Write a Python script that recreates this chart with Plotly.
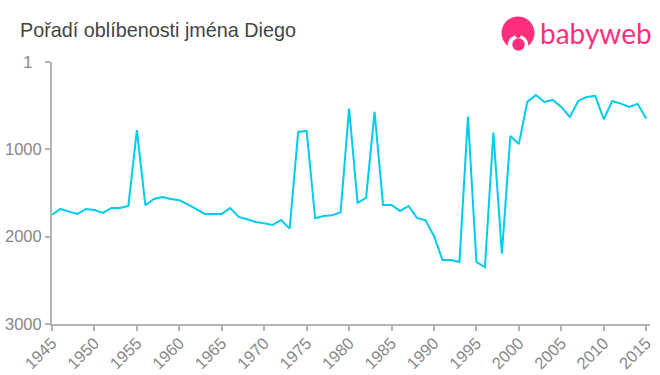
import plotly.graph_objects as go

years = list(range(1945, 2016))
ranks = [1748, 1683, 1714, 1740, 1683, 1695, 1729, 1672, 1672, 1649,
         782, 1641, 1569, 1546, 1569, 1584, 1630, 1687, 1740, 1740,
         1740, 1672, 1775, 1801, 1832, 1847, 1866, 1809, 1908, 802,
         790, 1790, 1763, 1756, 1721, 534, 1614, 1557, 572, 1637,
         1637, 1706, 1649, 1786, 1813, 1992, 2267, 2267, 2290, 626,
         2290, 2351, 809, 2195, 847, 939, 458, 378, 458, 435,
         515, 630, 447, 401, 389, 656, 447, 477, 515, 481, 649]
x_ticks = list(range(1945, 2016, 5))
y_ticks = [1, 1000, 2000, 3000]
y_labels = ["1\u00a0\u00a0", "1000", "2000", "3000"]
title = "Pořadí oblíbenosti jména Diego"
brand = "babyweb"

W, H = 660, 375
L, R, T, B = 52, 10, 62, 51
PINK = "#FF2F7E"
px = lambda v: (v - L) / (W - L - R)
py = lambda v: 1 - (v - T) / (H - T - B)


def disc(cx, cy, r, color):
    return dict(type="circle", xref="paper", yref="paper", layer="above",
                x0=px(cx - r), x1=px(cx + r), y0=py(cy + r), y1=py(cy - r),
                fillcolor=color, line_width=0)


fig = go.Figure(go.Scatter(x=years, y=ranks, mode="lines", cliponaxis=False,
                           line=dict(color="#00CCEE", width=2), hoverinfo="skip"))
fig.update_layout(
    width=W, height=H, autosize=False, showlegend=False,
    margin=dict(l=L, r=R, t=T, b=B, autoexpand=False),
    paper_bgcolor="white", plot_bgcolor="white",
    font=dict(family="Liberation Sans, Arial, sans-serif", color="#888888", size=16.5),
    xaxis=dict(range=[1945, 2015.45], tickvals=x_ticks, ticktext=[str(v) for v in x_ticks],
               tickangle=-45, showgrid=False, zeroline=False, showline=True,
               linecolor="#B3B3B3", linewidth=2, ticks="outside", ticklen=5,
               tickcolor="#B3B3B3", tickwidth=2, automargin=False, ticklabelstandoff=-4),
    yaxis=dict(range=[3000, 1], tickvals=y_ticks, ticktext=y_labels,
               showgrid=False, zeroline=False, showline=True,
               linecolor="#B3B3B3", linewidth=2, ticks="outside", ticklen=5,
               tickcolor="#B3B3B3", tickwidth=2, automargin=False),
    annotations=[
        dict(text=title, xref="paper", yref="paper", x=px(18), y=py(30), xanchor="left",
             yanchor="middle", showarrow=False,
             font=dict(size=19.8, color="#444444", family="Liberation Sans, Arial, sans-serif")),
        dict(text=brand, xref="paper", yref="paper", x=px(537.5), y=py(33.5), xanchor="left",
             yanchor="middle", showarrow=False,
             font=dict(size=28, color=PINK, family="Lato, sans-serif")),
    ],
    shapes=[
        disc(518, 33, 16.5, PINK),
        disc(518, 45.5, 10.5, "white"),
        dict(type="rect", xref="paper", yref="paper", layer="above",
             x0=px(500), x1=px(537), y0=py(60), y1=py(48), fillcolor="white", line_width=0),
        disc(518, 35.5, 2.5, PINK),
        disc(518.5, 44.5, 6.2, PINK),
    ],
)
fig.write_html("out.html", post_script="document.body.style.margin='0';",
               config={"displayModeBar": False})
